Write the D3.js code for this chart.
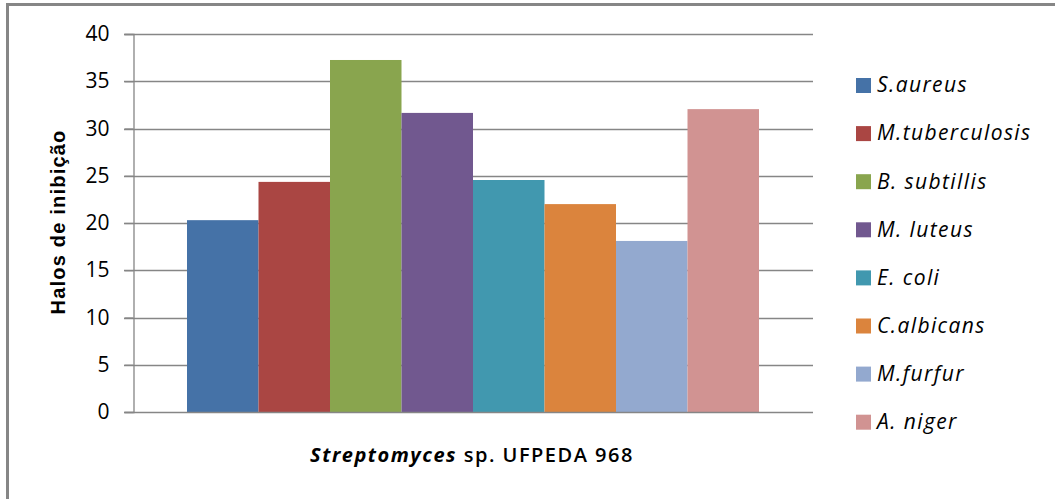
<!DOCTYPE html>
<html><head><meta charset="utf-8">
<script src="https://cdn.jsdelivr.net/npm/d3@7"></script>
<style>
html,body{margin:0;padding:0;background:#fff;}
svg{display:block;}
</style></head>
<body>
<svg id="c" width="1055" height="499"></svg>
<script>
const species = ["S.aureus","M.tuberculosis","B. subtillis","M. luteus","E. coli","C.albicans","M.furfur","A. niger"];
const values = [20.3, 24.35, 37.25, 31.65, 24.55, 22.0, 18.1, 32.05];
const colors = ["#4572A7","#AA4643","#89A54E","#71588F","#4198AF","#DB843D","#93A9CF","#D19392"];
const yTicks = [0,5,10,15,20,25,30,35,40];
const yTitle = "Halos de inibição";
const xTitleItalic = "Streptomyces";
const xTitleRest = " sp. UFPEDA 968";

const svg = d3.select("#c");
const W = 1055, H = 499;
svg.append("rect").attr("width",W).attr("height",H).attr("fill","#fff");
// outer frame
svg.append("rect").attr("x",7.5).attr("y",4.5).attr("width",1060).attr("height",510)
  .attr("fill","none").attr("stroke","#868686").attr("stroke-width",3);

const plot = {left:133, right:813, top:34, bottom:412};
const y = d3.scaleLinear().domain([0,40]).range([plot.bottom, plot.top]);
const x = d3.scaleBand().domain(species).range([187,759]).paddingInner(0);

// gridlines
svg.append("g").selectAll("line").data(yTicks.filter(d=>d>0)).join("line")
  .attr("x1",plot.left-9).attr("x2",plot.right)
  .attr("y1",d=>Math.round(y(d))+0.5).attr("y2",d=>Math.round(y(d))+0.5)
  .attr("stroke","#868686").attr("stroke-width",1.3);

// bars
svg.append("g").selectAll("rect").data(species).join("rect")
  .attr("x",d=>x(d)).attr("width",x.bandwidth())
  .attr("y",(d,i)=>y(values[i])).attr("height",(d,i)=>y(0)-y(values[i]))
  .attr("fill",(d,i)=>colors[i]);

// axis
const yAxis = d3.axisLeft(y).tickValues(yTicks).tickSize(9).tickPadding(15);
const ga = svg.append("g").attr("transform",`translate(${plot.left+0.5},0)`).call(yAxis);
ga.select(".domain").attr("stroke","#868686").attr("stroke-width",1.3);
ga.selectAll(".tick line").attr("stroke","#868686").attr("stroke-width",1.3);
ga.selectAll(".tick text").attr("font-family","'Open Sans', sans-serif").attr("font-size",21).attr("fill","#000");
// baseline
svg.append("line").attr("x1",plot.left-9).attr("x2",plot.right)
  .attr("y1",Math.round(y(0))+0.5).attr("y2",Math.round(y(0))+0.5)
  .attr("stroke","#868686").attr("stroke-width",1.3);

// y title
svg.append("text").attr("transform",`translate(65,222) rotate(-90)`)
  .attr("text-anchor","middle").attr("font-family","'Liberation Sans', Arial, sans-serif")
  .attr("font-weight","bold").attr("font-size",20).attr("letter-spacing",1.2).attr("fill","#000").text(yTitle);

// x title
const xt = svg.append("text").attr("x",472).attr("y",462).attr("text-anchor","middle")
  .attr("font-family","'Open Sans', sans-serif").attr("font-weight","bold").attr("font-size",20)
  .attr("letter-spacing",1.5).attr("fill","#000");
xt.append("tspan").attr("font-style","italic").text(xTitleItalic);
xt.append("tspan").attr("font-weight","600").text(xTitleRest);

// legend
const lg = svg.append("g").selectAll("g").data(species).join("g")
  .attr("transform",(d,i)=>`translate(856,${85 + i*48.1})`);
lg.append("rect").attr("x",0).attr("y",-7).attr("width",15).attr("height",15).attr("fill",(d,i)=>colors[i]);
lg.append("text").attr("x",21).attr("y",0).attr("dy","0.35em")
  .attr("font-family","'Open Sans', sans-serif").attr("font-style","italic").attr("font-size",21)
  .attr("letter-spacing",1.4).attr("fill","#000")
  .text(d=>d);
</script>
</body></html>
